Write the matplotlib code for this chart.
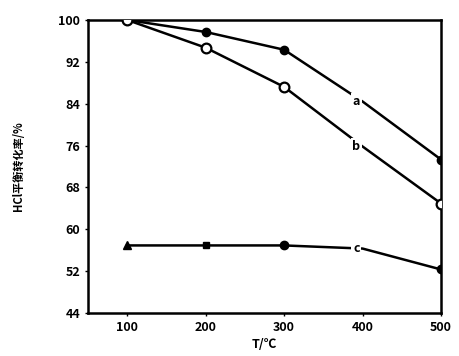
import matplotlib
matplotlib.use("Agg")
import matplotlib.pyplot as plt

plt.rcParams['font.family'] = ['Noto Sans CJK SC', 'DejaVu Sans']

temps = [100, 200, 300, 400, 500]
curve_a = [100, 97.7, 94.3, 84.4, 73.3]
curve_b = [100, 94.7, 87.2, 75.8, 64.9]
curve_c = [56.9, 56.9, 56.9, 56.3, 52.3]
labels = ["a", "b", "c"]
xticks = [100, 200, 300, 400, 500]
yticks = [44, 52, 60, 68, 76, 84, 92, 100]

fig = plt.figure(figsize=(4.6, 3.56), dpi=100)
ax = fig.add_axes([0.191, 0.121, 0.768, 0.823])

mk = [0, 1, 2, 4]
ax.plot(temps, curve_a, color='black', lw=1.8, zorder=2)
ax.plot([temps[i] for i in mk[1:]], [curve_a[i] for i in mk[1:]], 'o', color='black', ms=6, zorder=3)
ax.plot(temps, curve_b, color='black', lw=1.8, zorder=2)
ax.plot([temps[i] for i in mk], [curve_b[i] for i in mk], 'o', mfc='white', mec='black', mew=1.6, ms=7, zorder=4)
ax.plot(temps, curve_c, color='black', lw=1.8, zorder=2)
ax.plot([temps[0]], [curve_c[0]], '^', color='black', ms=6, zorder=3)
ax.plot([temps[1]], [curve_c[1]], 's', color='black', ms=5, zorder=3)
ax.plot([temps[i] for i in [2, 4]], [curve_c[i] for i in [2, 4]], 'o', color='black', ms=6, zorder=3)

for lab, ys in zip(labels, [curve_a, curve_b, curve_c]):
    ax.text(temps[3] - 8, ys[3], lab, fontsize=9, fontweight='bold', ha='center', va='center',
            bbox=dict(facecolor='white', edgecolor='none', pad=1.2), zorder=5)

ax.set_xlim(50, 500)
ax.set_ylim(44, 100)
ax.set_xticks(xticks)
ax.set_yticks(yticks)
ax.tick_params(axis='both', labelsize=9, length=2, width=1)
for lab in ax.get_xticklabels() + ax.get_yticklabels():
    lab.set_fontweight('bold')
for s in ax.spines.values():
    s.set_linewidth(1.8)
ax.set_xlabel("T/℃", fontsize=9, fontweight='bold', labelpad=3)
ax.set_ylabel("HCl平衡转化率/%", fontsize=8, fontweight='bold', labelpad=24)

fig.savefig("out.png", dpi=100)
